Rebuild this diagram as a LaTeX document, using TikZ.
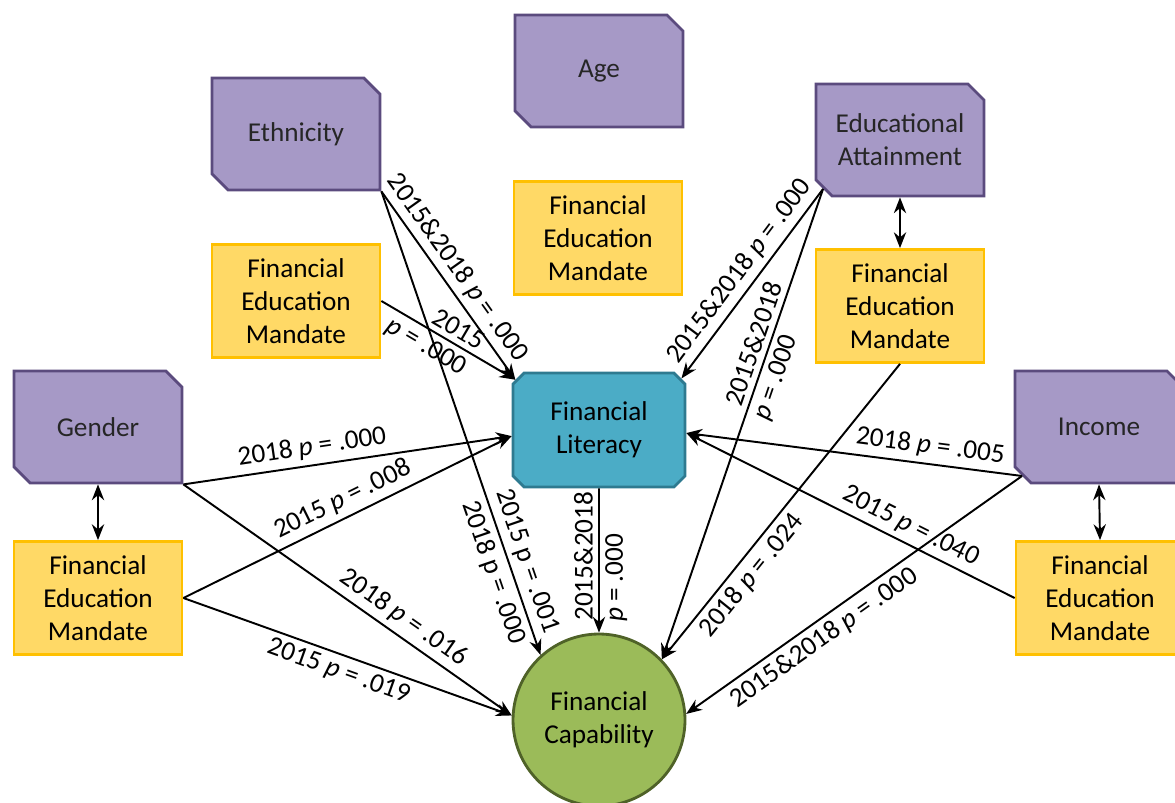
\documentclass[tikz,border=0pt]{standalone}
\usepackage{fontspec}
\setmainfont{Carlito}
\usetikzlibrary{shapes.misc, arrows.meta}
\definecolor{demofill}{HTML}{A699C6}
\definecolor{demoline}{HTML}{5B4B7E}
\definecolor{mandfill}{HTML}{FFD966}
\definecolor{mandline}{HTML}{FFC000}
\definecolor{litfill}{HTML}{4BACC6}
\definecolor{litline}{HTML}{2E7A90}
\definecolor{capfill}{HTML}{9BBB59}
\definecolor{capline}{HTML}{4F6228}
\newcommand{\diagfont}{\fontsize{15.5}{18.7}\selectfont}
\tikzset{>={Stealth[length=9pt,width=7pt]}}
\tikzset{
  demo/.style={chamfered rectangle, chamfered rectangle corners={north east,south west},
    chamfered rectangle xsep=0.16cm, chamfered rectangle ysep=0.16cm, inner sep=0pt,
    draw=demoline, fill=demofill, line width=1.6pt, minimum width=3.36cm, minimum height=2.24cm,
    align=center, font=\diagfont, text=black!85},
  mandate/.style={rectangle, draw=mandline, fill=mandfill, line width=1.6pt,
    minimum width=3.36cm, minimum height=2.26cm, align=center, font=\diagfont},
  lbl/.style={sloped, font=\diagfont, inner sep=3pt},
  vlbl/.style={rotate=90, font=\diagfont, inner sep=3pt},
  link/.style={->, line width=1.1pt},
}

\begin{document}
\begin{tikzpicture}[x=0.02cm, y=-0.02cm]
\useasboundingbox (0,0) rectangle (1175,803);
\node[demo] (age) at (599,71) {Age};
\node[demo] (eth) at (296,134) {Ethnicity};
\node[demo] (edu) at (900,140) {Educational\\Attainment};
\node[demo] (gender) at (98,427) {Gender};
\node[demo] (income) at (1099,427) {Income};
\node[mandate] (midfem) at (598,238) {Financial\\Education\\Mandate};
\node[mandate] (ethfem) at (296,301) {Financial\\Education\\Mandate};
\node[mandate] (edufem) at (900,306) {Financial\\Education\\Mandate};
\node[mandate] (genderfem) at (98,598) {Financial\\Education\\Mandate};
\node[mandate] (incomefem) at (1100,598) {Financial\\Education\\Mandate};
\node[chamfered rectangle, chamfered rectangle xsep=0.11cm, chamfered rectangle ysep=0.11cm,
  inner sep=0pt, draw=litline, fill=litfill, line width=1.6pt, minimum width=3.44cm,
  minimum height=2.28cm, align=center, font=\diagfont] (fl) at (599,430) {Financial\\Literacy};
\node[circle, draw=capline, fill=capfill, line width=1.6pt, minimum size=3.44cm, inner sep=0pt,
  align=center, font=\diagfont] (fc) at (599,720) {Financial\\Capability};

\draw[link, <->] (gender.south) -- (genderfem.north);
\draw[link, <->] (edu.south) -- (edufem.north);
\draw[link, <->] (income.south) -- (incomefem.north);

\draw[link] (eth.south east) -- (fl.149) node[lbl, above, pos=.46] {2015\&2018 \textit{p} = .000};
\draw[link] (eth.south east) -- (fc.132) node[lbl, above, pos=.81] {2015 p = .001}
  node[lbl, below, pos=.81] {2018 p = .000};
\draw[link] (ethfem.east) -- (fl.149) node[lbl, above, pos=.52] {2015}
  node[lbl, below, pos=.40] {\textit{p} = .000};

\draw[link] (edu.south west) -- (fl.32) node[lbl, above, pos=.49] {2015\&2018 \textit{p} = .000};
\draw[link] (edu.south west) -- (fc.44) node[lbl, above, pos=.34] {2015\&2018}
  node[lbl, below, pos=.39] {\textit{p} = .000};
\draw[link] (edufem.south) -- (fc.44) node[lbl, below, pos=.68] {2018 \textit{p} = .024};

\draw[link] (fl) -- (fc) node[vlbl, above, pos=.47] {2015\&2018}
  node[vlbl, below, pos=.62] {\textit{p} = .000};

\draw[link] (gender.south east) -- (fl.184) node[lbl, above, pos=.40] {2018 \textit{p} = .000};
\draw[link] (gender.south east) -- (fc.177) node[lbl, above, pos=.64] {2018 \textit{p} = .016};
\draw[link] (genderfem.east) -- (fl.184) node[lbl, above, pos=.51] {2015 \textit{p} = .008};
\draw[link] (genderfem.east) -- (fc.177) node[lbl, below, pos=.49] {2015 \textit{p} = .019};

\draw[link] (income.south west) -- (fl.358) node[lbl, above, pos=.28] {2018 \textit{p} = .005};
\draw[link] (income.south west) -- (fc.4) node[lbl, below, pos=.62] {2015\&2018 \textit{p} = .000};
\draw[link] (incomefem.west) -- (fl.358) node[lbl, above, pos=.34] {2015 \textit{p} = .040};
\end{tikzpicture}
\end{document}
